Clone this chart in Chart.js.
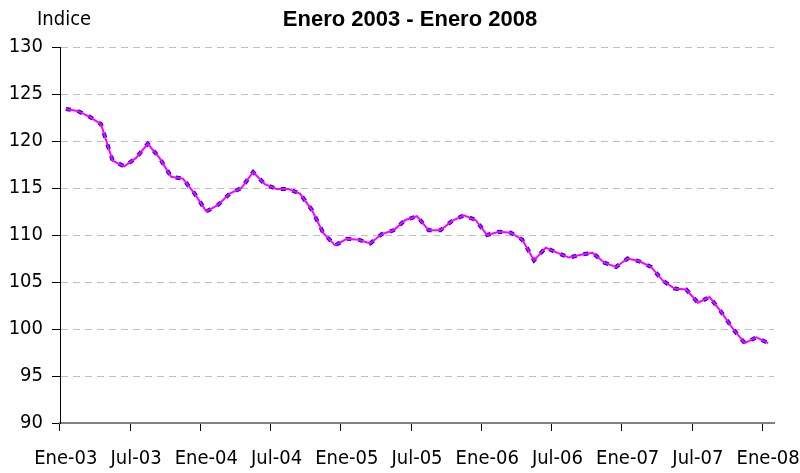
<!DOCTYPE html>
<html>
<head>
<meta charset="utf-8">
<script src="https://cdn.jsdelivr.net/npm/chart.js@4.4.0/dist/chart.umd.min.js"></script>
<style>
  html, body { margin: 0; padding: 0; background: #ffffff; }
  #wrap { width: 800px; height: 473px; position: relative; }
</style>
</head>
<body>
<div id="wrap"><canvas id="c" width="800" height="473"></canvas></div>
<script>
// ---- data ----
const categories = [
  "Ene-03","Feb-03","Mar-03","Abr-03","May-03","Jun-03","Jul-03","Ago-03","Sep-03","Oct-03","Nov-03","Dic-03",
  "Ene-04","Feb-04","Mar-04","Abr-04","May-04","Jun-04","Jul-04","Ago-04","Sep-04","Oct-04","Nov-04","Dic-04",
  "Ene-05","Feb-05","Mar-05","Abr-05","May-05","Jun-05","Jul-05","Ago-05","Sep-05","Oct-05","Nov-05","Dic-05",
  "Ene-06","Feb-06","Mar-06","Abr-06","May-06","Jun-06","Jul-06","Ago-06","Sep-06","Oct-06","Nov-06","Dic-06",
  "Ene-07","Feb-07","Mar-07","Abr-07","May-07","Jun-07","Jul-07","Ago-07","Sep-07","Oct-07","Nov-07","Dic-07",
  "Ene-08"
];
const tickLabels = ["Ene-03","Jul-03","Ene-04","Jul-04","Ene-05","Jul-05","Ene-06","Jul-06","Ene-07","Jul-07","Ene-08"];
const indiceBlue = [
  123.4,123.2,122.6,121.8,117.9,117.3,118.2,119.7,118.2,116.2,116.0,114.4,
  112.5,113.2,114.4,115.0,116.7,115.4,114.9,114.9,114.4,112.7,110.2,108.9,
  109.6,109.5,109.1,110.1,110.5,111.6,112.0,110.5,110.5,111.5,112.1,111.6,
  110.0,110.35,110.25,109.5,107.3,108.65,108.1,107.6,107.9,108.1,107.05,106.6,
  107.5,107.2,106.6,105.15,104.3,104.2,102.8,103.4,101.8,100.0,98.5,99.1,
  98.5
];
const indiceMagenta = [
  123.4,123.2,122.6,121.8,117.9,117.3,118.2,119.7,118.2,116.2,116.0,114.4,
  112.5,113.2,114.4,115.0,116.7,115.4,114.9,114.9,114.4,112.7,110.2,108.9,
  109.6,109.5,109.1,110.1,110.5,111.6,112.0,110.5,110.5,111.5,112.1,111.6,
  110.0,110.35,110.25,109.5,107.3,108.65,108.1,107.6,107.9,108.1,107.05,106.6,
  107.5,107.2,106.6,105.15,104.3,104.2,102.8,103.4,101.8,100.0,98.5,99.1,
  98.5
];
const titleText = "Enero 2003 - Enero 2008";
const yAxisText = "Indice";
const yMin = 90, yMax = 130, yStep = 5;
const labelEvery = 6;

// ---- chart ----
const narrowFamily = "'DejaVu Sans Condensed', 'Liberation Sans Narrow', 'Liberation Sans', Arial, sans-serif";

const textPlugin = {
  id: 'texts',
  afterDraw(chart) {
    const ctx = chart.ctx;
    ctx.save();
    ctx.fillStyle = '#000000';
    ctx.textBaseline = 'alphabetic';
    ctx.textAlign = 'center';
    ctx.font = "bold 22px 'Liberation Sans', Arial, sans-serif";
    ctx.fillText(titleText, 410, 26);
    ctx.textAlign = 'left';
    ctx.font = "20px " + narrowFamily;
    ctx.fillText(yAxisText, 37, 25);
    ctx.restore();
  }
};

new Chart(document.getElementById('c'), {
  type: 'line',
  data: {
    labels: categories,
    datasets: [
      {
        label: 'magenta',
        data: indiceMagenta,
        borderColor: '#ff00ff',
        borderWidth: 2,
        pointRadius: 0,
        tension: 0,
        fill: false,
        order: 0
      },
      {
        label: 'blue',
        data: indiceBlue,
        borderColor: '#0000ff',
        borderWidth: 4,
        borderDash: [5, 7],
        borderCapStyle: 'butt',
        pointRadius: 0,
        tension: 0,
        fill: false,
        order: 1
      }
    ]
  },
  options: {
    responsive: false,
    animation: false,
    events: [],
    layout: { padding: { left: 0, right: 26, top: 47, bottom: 0 } },
    plugins: {
      legend: { display: false },
      tooltip: { enabled: false },
      title: { display: false }
    },
    scales: {
      x: {
        type: 'category',
        offset: true,
        grid: {
          offset: true,
          drawOnChartArea: false,
          drawTicks: true,
          tickLength: 8,
          tickWidth: 1,
          tickColor: (c) => (c.index % labelEvery === 0 ? '#000000' : 'rgba(0,0,0,0)')
        },
        border: { display: true, color: '#808080', width: 2 },
        ticks: {
          autoSkip: false,
          maxRotation: 0,
          minRotation: 0,
          padding: 16,
          color: '#000000',
          font: { family: narrowFamily, size: 20 },
          callback: (val, index) => (index % labelEvery === 0 ? tickLabels[index / labelEvery] : '')
        },
        afterFit: (s) => { s.height = 50; s.paddingLeft = 0; s.paddingRight = 0; }
      },
      y: {
        min: yMin,
        max: yMax,
        grid: {
          color: (c) => (c.tick && c.tick.value === yMin ? 'rgba(0,0,0,0)' : '#c0c0c0'),
          lineWidth: 1,
          tickLength: 8,
          tickColor: '#000000',
          tickBorderDash: [],
          drawTicks: true
        },
        border: { display: true, color: '#000000', width: 1, dash: [7, 5] },
        ticks: {
          stepSize: yStep,
          padding: 9,
          color: '#000000',
          font: { family: narrowFamily, size: 20 }
        },
        afterFit: (s) => { s.width = 60; s.paddingTop = 0; s.paddingBottom = 0; }
      }
    }
  },
  plugins: [textPlugin]
});
</script>
</body>
</html>
